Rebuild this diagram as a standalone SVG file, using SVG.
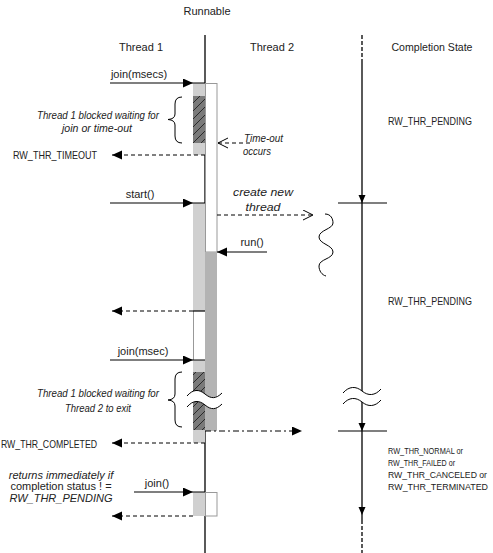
<svg xmlns="http://www.w3.org/2000/svg" width="493" height="553" viewBox="0 0 493 553">
<style>
text{font-family:"Liberation Sans",Arial,sans-serif;font-size:11px;fill:#222}
.it{font-style:italic}
.c{text-anchor:middle}
.ln{stroke:#000;stroke-width:1.2;fill:none}
.ds{stroke:#000;stroke-width:1;fill:none;stroke-dasharray:4,3}
.dd{stroke:#000;stroke-width:1;fill:none;stroke-dasharray:6,3,2,3}
.lg{fill:#d0d0d0}
.dg{fill:#b3b3b3}
.ob{fill:#fff;stroke:#999;stroke-width:1}
.ht{fill:url(#hatch)}
.wv{stroke:#000;stroke-width:1;fill:none}
.cs{font-size:9px}
</style>
<defs>
<pattern id="hatch" patternUnits="userSpaceOnUse" width="8" height="8">
<rect width="8" height="8" fill="#7a7a7a"/>
<path d="M-1,9 L9,-1 M-2,2 L2,-2 M6,10 L10,6" stroke="#2a2a2a" stroke-width="1"/>
</pattern>
<marker id="af" markerUnits="userSpaceOnUse" markerWidth="24" markerHeight="10" refX="10" refY="4.5" orient="auto">
<path d="M0,0 L10,4.5 L0,9 Z" fill="#000"/>
</marker>
<marker id="afo" markerUnits="userSpaceOnUse" markerWidth="24" markerHeight="10" refX="22" refY="4.5" orient="auto">
<path d="M0,0 L10,4.5 L0,9 Z" fill="#000"/>
</marker>
<marker id="ao" markerUnits="userSpaceOnUse" markerWidth="12" markerHeight="12" refX="10" refY="5.5" orient="auto">
<path d="M0,0.5 L10,5.5 L0,10.5" fill="none" stroke="#000" stroke-width="1"/>
</marker>
</defs>

<g id="lifeline-main">
<line x1="205" y1="35" x2="205" y2="553" stroke="#000" stroke-width="1.3"/>
</g>
<g id="lifeline-completion">
<line x1="362" y1="35" x2="362" y2="60" stroke="#000" stroke-width="1.3" stroke-dasharray="4,2"/>
<line x1="362" y1="60" x2="362" y2="520" stroke="#000" stroke-width="1.3"/>
<line x1="362" y1="520" x2="362" y2="553" stroke="#000" stroke-width="1.3" stroke-dasharray="4,2"/>
<line x1="338" y1="203" x2="387" y2="203" stroke="#000" stroke-width="1.2"/>
<line x1="338" y1="431" x2="387" y2="431" stroke="#000" stroke-width="1.2"/>
<path d="M358.5,195 L365.5,195 L362,203 Z" fill="#000"/>
<path d="M358.5,423 L365.5,423 L362,431 Z" fill="#000"/>
<path d="M358.5,507 L365.5,507 L362,515 Z" fill="#000"/>
<path d="M343,393 C349,386 356,386 362,391 C368,396 375,396 381,389 L381,400 C375,407 368,407 362,402 C356,397 349,397 343,404 Z" fill="#fff"/>
<path class="wv" d="M343,393 C349,386 356,386 362,391 C368,396 375,396 381,389"/>
<path class="wv" d="M343,404 C349,397 356,397 362,402 C368,407 375,407 381,400"/>
</g>

<g id="activations">
<rect class="lg" x="193" y="83" width="12" height="72"/>
<rect class="ht" x="193" y="96" width="12" height="47"/>
<rect class="ob" x="205.5" y="83.5" width="11.5" height="168.5"/>
<rect class="lg" x="193" y="203" width="12" height="108"/>
<rect class="dg" x="205" y="252" width="12" height="179"/>
<rect x="193.5" y="311" width="11.5" height="49" fill="#fff"/>
<line x1="193.5" y1="311" x2="193.5" y2="360" stroke="#999" stroke-width="1"/>
<line x1="193" y1="311" x2="205" y2="311" stroke="#000" stroke-width="1.2"/>
<rect class="lg" x="193" y="360" width="12" height="83"/>
<rect class="ht" x="193" y="372" width="12" height="58"/>
<path d="M187,396 C193,389 199,389 205,394 C211,399 216,399 222,393 L222,404 C216,410 211,410 205,405 C199,400 193,400 187,407 Z" fill="#fff"/>
<path class="wv" d="M187,396 C193,389 199,389 205,394 C211,399 216,399 222,393"/>
<path class="wv" d="M187,407 C193,400 199,400 205,405 C211,410 216,410 222,404"/>
<rect class="lg" x="193" y="492" width="12" height="24"/>
<rect class="ob" x="205.5" y="492.5" width="11.5" height="23.5"/>
</g>

<g id="connectors">
<line class="ln" x1="110" y1="83" x2="205" y2="83" marker-end="url(#afo)"/>
<line class="ds" x1="205" y1="155" x2="112" y2="155" marker-end="url(#af)"/>
<line class="ds" x1="250" y1="143" x2="218" y2="143" marker-end="url(#ao)"/>
<line class="ln" x1="110" y1="203" x2="205" y2="203" marker-end="url(#afo)"/>
<line class="ds" x1="217" y1="215" x2="313" y2="215" marker-end="url(#ao)"/>
<path class="wv" d="M325,214 C331,214 333,219 333,223 C333,229 319,230 319,237 C319,244 333,245 333,252 C333,259 319,259 319,266 C319,271 322,275 326,276"/>
<line class="ln" x1="267" y1="252" x2="217" y2="252" marker-end="url(#af)"/>
<line class="ds" x1="193" y1="311" x2="112" y2="311" marker-end="url(#af)"/>
<line class="ln" x1="110" y1="360" x2="205" y2="360" marker-end="url(#afo)"/>
<line class="dd" x1="205" y1="431" x2="302" y2="431" marker-end="url(#af)"/>
<line class="ds" x1="205" y1="443" x2="112" y2="443" marker-end="url(#af)"/>
<line class="ln" x1="134" y1="492" x2="205" y2="492" marker-end="url(#afo)"/>
<line class="ds" x1="193" y1="516" x2="112" y2="516" marker-end="url(#af)"/>
<path class="wv" d="M182,97 Q175,97 175,104 L175,114 Q175,119 168,119.5 Q175,120 175,125 L175,136 Q175,143 182,143"/>
<path class="wv" d="M182,372 Q175,372 175,379 L175,394 Q175,399.5 168,400 Q175,400.5 175,406 L175,420 Q175,427 182,427"/>
</g>

<g id="labels">
<text class="c" x="207" y="15" font-size="12">Runnable</text>
<text class="c" x="141" y="51">Thread 1</text>
<text class="c" x="272" y="51">Thread 2</text>
<text class="c" x="432" y="51" textLength="81" lengthAdjust="spacingAndGlyphs">Completion State</text>
<text class="c" x="139" y="78">join(msecs)</text>
<text class="c it" x="98" y="119" font-size="10" textLength="122" lengthAdjust="spacingAndGlyphs">Thread 1 blocked waiting for</text>
<text class="c it" x="97" y="132" font-size="10" textLength="70" lengthAdjust="spacingAndGlyphs">join or time-out</text>
<text x="388" y="125" font-size="10" textLength="84" lengthAdjust="spacingAndGlyphs">RW_THR_PENDING</text>
<text class="it" x="244" y="142" font-size="9.5" textLength="39" lengthAdjust="spacingAndGlyphs">Time-out</text>
<text class="it" x="243" y="155" font-size="9.5" textLength="28" lengthAdjust="spacingAndGlyphs">occurs</text>
<text x="13" y="159" font-size="10" textLength="84" lengthAdjust="spacingAndGlyphs">RW_THR_TIMEOUT</text>
<text class="c" x="140" y="198">start()</text>
<text class="c it" x="263" y="196" font-size="13" textLength="60" lengthAdjust="spacingAndGlyphs">create new</text>
<text class="c it" x="263" y="211" font-size="13" textLength="35" lengthAdjust="spacingAndGlyphs">thread</text>
<text class="c" x="252" y="246">run()</text>
<text x="388" y="305" font-size="10" textLength="84" lengthAdjust="spacingAndGlyphs">RW_THR_PENDING</text>
<text class="c" x="143" y="355">join(msec)</text>
<text class="c it" x="98" y="397" font-size="10" textLength="122" lengthAdjust="spacingAndGlyphs">Thread 1 blocked waiting for</text>
<text class="c it" x="98" y="412" font-size="10" textLength="66" lengthAdjust="spacingAndGlyphs">Thread 2 to exit</text>
<text x="1" y="448" font-size="10" textLength="96" lengthAdjust="spacingAndGlyphs">RW_THR_COMPLETED</text>
<text class="cs" x="388" y="454" textLength="75" lengthAdjust="spacingAndGlyphs">RW_THR_NORMAL or</text>
<text class="cs" x="388" y="466" textLength="67" lengthAdjust="spacingAndGlyphs">RW_THR_FAILED or</text>
<text class="cs" x="388" y="478" textLength="99" lengthAdjust="spacingAndGlyphs">RW_THR_CANCELED or</text>
<text class="cs" x="388" y="490" textLength="100" lengthAdjust="spacingAndGlyphs">RW_THR_TERMINATED</text>
<text class="c it" x="61" y="479" font-size="10.5">returns immediately if</text>
<text class="c" x="61" y="490" font-size="10.5">completion status ! =</text>
<text class="c it" x="61" y="502">RW_THR_PENDING</text>
<text class="c" x="157" y="487">join()</text>
</g>
</svg>
